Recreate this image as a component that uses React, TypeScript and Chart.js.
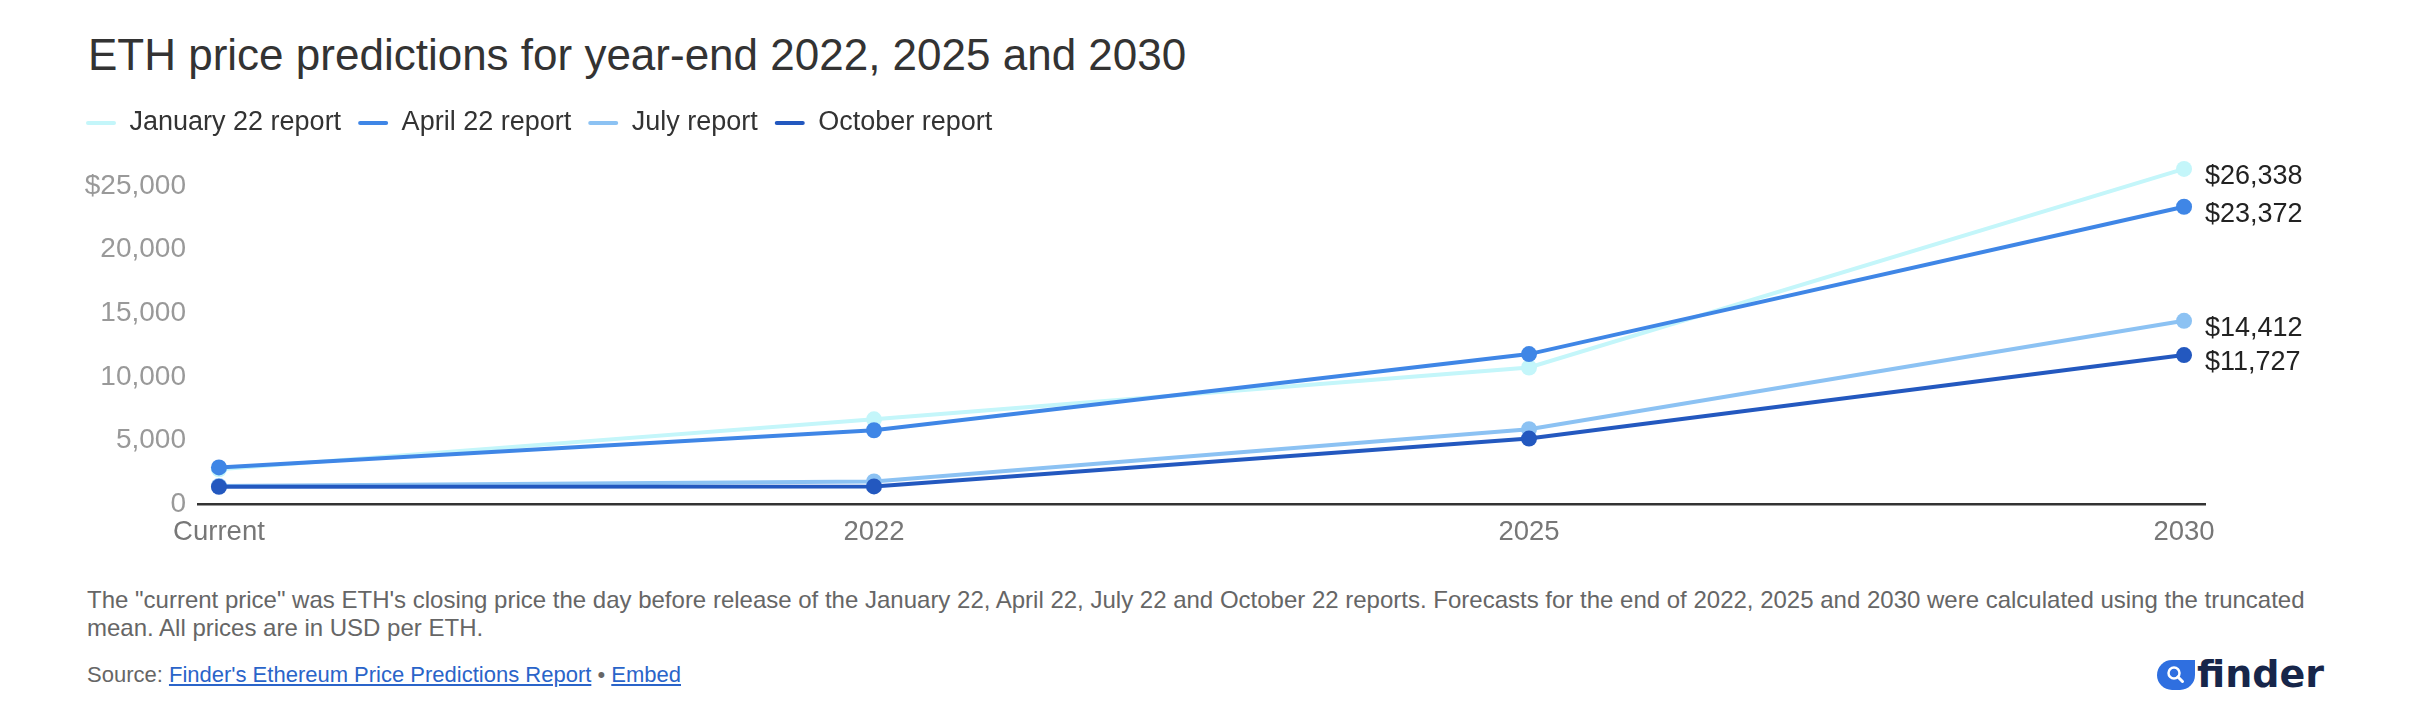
import React, { useEffect, useRef } from "react";
import { Chart, registerables } from "chart.js";

Chart.register(...registerables);

const categories = ["Current", "2022", "2025", "2030"];
const seriesNames = ["January 22 report", "April 22 report", "July report", "October report"];
const januaryValues = [2750, 6680, 10750, 26338];
const aprilValues = [2900, 5820, 11800, 23372];
const julyValues = [1450, 1800, 5900, 14412];
const octoberValues = [1380, 1410, 5170, 11727];
const seriesColors = ["#c4f6fa", "#3f86e6", "#8cc2f3", "#2358bf"];
const yTicks = [0, 5000, 10000, 15000, 20000, 25000];

const FONT = "'Liberation Sans', Arial, Helvetica, sans-serif";

const endLabelPlugin = {
  id: "endLabels",
  afterDatasetsDraw(chart: any) {
    const ctx = chart.ctx;
    ctx.save();
    ctx.font = `27px ${FONT}`;
    ctx.fillStyle = "#222";
    ctx.textAlign = "left";
    ctx.textBaseline = "middle";
    chart.data.datasets.forEach((ds: any, i: number) => {
      const meta = chart.getDatasetMeta(i);
      const last = meta.data[meta.data.length - 1];
      const v = ds.data[ds.data.length - 1].y;
      ctx.fillText("$" + v.toLocaleString("en-US"), last.x + 21, last.y + 8);
    });
    ctx.restore();
  },
};

function ChartCanvas() {
  const ref = useRef<HTMLCanvasElement | null>(null);
  useEffect(() => {
    if (!ref.current) return;
    const all = [januaryValues, aprilValues, julyValues, octoberValues];
    const chart = new Chart(ref.current, {
      type: "line",
      data: {
        datasets: all.map((vals, i) => ({
          label: seriesNames[i],
          data: vals.map((v, j) => ({ x: j, y: v })),
          borderColor: seriesColors[i],
          backgroundColor: seriesColors[i],
          pointBackgroundColor: seriesColors[i],
          pointBorderWidth: 0,
          pointRadius: 8,
          borderWidth: 4,
          tension: 0,
          clip: false as any,
          order: 3 - i,
        })),
      },
      options: {
        animation: false,
        responsive: false,
        devicePixelRatio: 1,
        layout: { padding: { left: 61, top: 14.5, right: 213, bottom: 16.6 } },
        plugins: {
          tooltip: { enabled: false },
          title: { display: false },
          legend: {
            display: true,
            position: "top",
            align: "start",
            labels: {
              boxWidth: 30,
              boxHeight: 4,
              padding: 17,
              color: "#333",
              font: { size: 27, family: FONT },
              useBorderRadius: true,
              borderRadius: 2,
              sort: (a: any, b: any) => a.datasetIndex - b.datasetIndex,
              generateLabels: (chart: any) => {
                const items = (Chart.defaults.plugins.legend.labels as any).generateLabels(chart);
                return items.map((it: any) => ({ ...it, lineWidth: 0, borderRadius: 2 }));
              },
            },
          },
        },
        scales: {
          x: {
            type: "linear",
            min: -0.032,
            max: 3.032,
            grid: { display: false, drawTicks: false },
            border: { display: true, color: "#333", width: 2.5 },
            afterBuildTicks: (scale: any) => {
              scale.ticks = categories.map((_, i) => ({ value: i }));
            },
            ticks: {
              padding: 12,
              color: "#777",
              font: { size: 27.5, family: FONT },
              maxRotation: 0,
              autoSkip: false,
              callback: (v: any) => categories[Math.round(Number(v))] ?? "",
            },
          },
          y: {
            type: "linear",
            min: 0,
            max: 28100,
            grid: { display: false, drawTicks: false },
            border: { display: false },
            afterBuildTicks: (scale: any) => {
              scale.ticks = yTicks.map((v) => ({ value: v }));
            },
            afterFit: (scale: any) => {
              scale.width = 129;
            },
            ticks: {
              padding: 12,
              color: "#999",
              font: { size: 28, family: FONT },
              callback: (v: any) => {
                const n = Number(v);
                if (n === yTicks[yTicks.length - 1]) return "$" + n.toLocaleString("en-US");
                return n.toLocaleString("en-US");
              },
            },
          },
        },
      } as any,
      plugins: [endLabelPlugin],
    });
    return () => chart.destroy();
  }, []);
  return <canvas ref={ref} width={2410} height={500} style={{ display: "block", width: 2410, height: 500 }} />;
}

export default function App() {
  return (
    <div
      style={{
        position: "relative",
        width: 2410,
        height: 700,
        overflow: "hidden",
        fontFamily: FONT,
        background: "#fff",
      }}
    >
      <div
        style={{
          position: "absolute",
          left: 80,
          top: 21.5,
          fontSize: 44,
          lineHeight: "50px",
          color: "#333",
          whiteSpace: "nowrap",
        }}
      >
        ETH price predictions for year-end 2022, 2025 and 2030
      </div>
      <div style={{ position: "absolute", left: 0, top: 70 }}>
        <ChartCanvas />
      </div>
      <div
        style={{
          position: "absolute",
          left: 79,
          top: 578,
          fontSize: 24,
          lineHeight: "28px",
          color: "#666",
          whiteSpace: "nowrap",
        }}
      >
        The "current price" was ETH's closing price the day before release of the January 22, April 22, July 22 and October 22 reports. Forecasts for the end of 2022, 2025 and 2030 were calculated using the truncated
        <br />
        mean. All prices are in USD per ETH.
      </div>
      <div
        style={{
          position: "absolute",
          left: 79,
          top: 653,
          fontSize: 22,
          lineHeight: "28px",
          color: "#666",
          whiteSpace: "nowrap",
        }}
      >
        Source:{" "}
        <a href="#" style={{ color: "#2a64c9", textDecoration: "underline" }}>
          Finder's Ethereum Price Predictions Report
        </a>{" "}
        •{" "}
        <a href="#" style={{ color: "#2a64c9", textDecoration: "underline" }}>
          Embed
        </a>
      </div>
      <div
        style={{
          position: "absolute",
          left: 2149,
          top: 645,
          height: 40,
          display: "flex",
          alignItems: "flex-end",
        }}
      >
        <svg width={38} height={30} viewBox="0 0 38 30" style={{ marginBottom: 3, marginRight: 2 }}>
          <path d="M15 0 H38 V15 A15 15 0 0 1 23 30 H15 A15 15 0 0 1 15 0 Z" fill="#2f6fe0" />
          <circle cx={17} cy={13} r={5.5} fill="none" stroke="#fff" strokeWidth={2.5} />
          <line x1={21} y1={17} x2={25.5} y2={21.5} stroke="#fff" strokeWidth={3} strokeLinecap="round" />
        </svg>
        <span
          style={{
            fontFamily: "'DejaVu Sans', sans-serif",
            fontWeight: 700,
            fontSize: 38,
            lineHeight: "38px",
            color: "#17264a",
            letterSpacing: 0,
          }}
        >
          finder
        </span>
      </div>
    </div>
  );
}
